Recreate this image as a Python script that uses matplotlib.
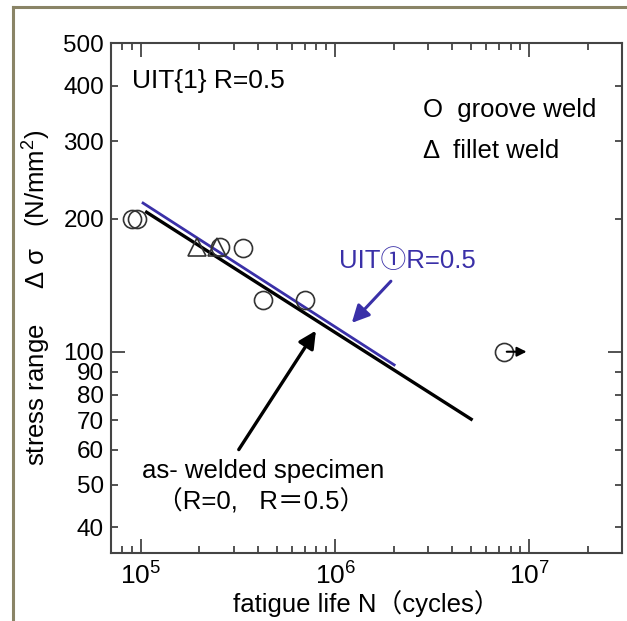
import numpy as np
import matplotlib
matplotlib.use("Agg")
import matplotlib.pyplot as plt
from matplotlib.lines import Line2D
from matplotlib.ticker import FixedLocator, NullFormatter, FixedFormatter

plt.rcParams['font.family'] = ['Liberation Sans', 'Noto Sans CJK JP', 'DejaVu Sans']
plt.rcParams['mathtext.fontset'] = 'custom'
plt.rcParams['mathtext.rm'] = 'Liberation Sans'

# test results
groove_N = [9.0e4, 9.5e4, 2.55e5, 3.35e5, 4.25e5, 7.0e5, 7.4e6]
groove_S = [200, 200, 173, 172, 131, 131, 100]
fillet_N = [1.95e5, 2.45e5]
fillet_S = [173, 173]

# S-N design lines
aswelded_N = [1.05e5, 5.1e6]
aswelded_S = [208, 70]
uit_N = [1.01e5, 2.04e6]
uit_S = [218, 93]

ytick_vals = [40, 50, 60, 70, 80, 90, 100, 200, 300, 400, 500]
xtick_vals = [1e5, 1e6, 1e7]
xtick_labels = [r'$\mathregular{10^{5}}$', r'$\mathregular{10^{6}}$', r'$\mathregular{10^{7}}$']

blue = '#3a30a8'
fs = 18.5

fig = plt.figure(figsize=(6.27, 6.21), dpi=100)
ax = fig.add_axes([0.177, 0.1095, 0.815, 0.821])

# outer frame (top and left edges)
fig.add_artist(Line2D([13/627, 1.0], [1 - 7/621, 1 - 7/621], color='#8a8466', lw=2.2))
fig.add_artist(Line2D([13/627, 13/627], [0, 1 - 7/621], color='#8a8466', lw=2.2))

ax.plot(aswelded_N, aswelded_S, color='black', lw=2.4, solid_capstyle='butt')
ax.plot(uit_N, uit_S, color=blue, lw=2.0, solid_capstyle='butt')

ax.plot(groove_N, groove_S, 'o', ms=13, mfc='none', mec='#333333', mew=1.2)
ax.plot(fillet_N, fillet_S, '^', ms=13, mfc='none', mec='#333333', mew=1.2)

ax.annotate('', xy=(1.0e7, 100), xytext=(7.4e6, 100),
            arrowprops=dict(arrowstyle='-|>', color='black', lw=1.5, mutation_scale=14))

ax.set_xscale('log')
ax.set_yscale('log')
ax.set_xlim(7e4, 3e7)
ax.set_ylim(35, 500)

ax.xaxis.set_major_locator(FixedLocator(xtick_vals))
ax.xaxis.set_major_formatter(FixedFormatter(xtick_labels))
minors = [m * 10**e for e in range(4, 8) for m in range(2, 10)]
ax.xaxis.set_minor_locator(FixedLocator(minors))
ax.xaxis.set_minor_formatter(NullFormatter())

ax.yaxis.set_major_locator(FixedLocator([100]))
ax.yaxis.set_major_formatter(FixedFormatter(['100']))
ax.yaxis.set_minor_locator(FixedLocator([v for v in ytick_vals if v != 100]))
ax.yaxis.set_minor_formatter(FixedFormatter([str(v) for v in ytick_vals if v != 100]))

ax.tick_params(which='both', direction='in', top=True, right=True, labelsize=17.5, color='#444444')
ax.tick_params(axis='y', which='both', pad=5)
ax.tick_params(axis='x', which='both', pad=7, labelsize=19)
ax.tick_params(which='major', length=10, width=1.3)
ax.tick_params(which='minor', length=5, width=1.3)
for s in ax.spines.values():
    s.set_linewidth(1.5)
    s.set_color('#444444')

ax.set_xlabel('fatigue life N（cycles）', fontsize=fs, labelpad=0)
ax.set_ylabel('stress range     Δ σ   (N/mm$^2$)', fontsize=fs, labelpad=8)

ax.text(9.0e4, 396, 'UIT{1} R=0.5', fontsize=19, va='baseline')
ax.text(2.83e6, 341, 'O  groove weld', fontsize=fs, va='baseline')
ax.text(2.83e6, 274, 'Δ  fillet weld', fontsize=fs, va='baseline')

ax.text(1.05e6, 155, 'UIT①R=0.5', fontsize=fs, color=blue, va='baseline')
ax.annotate('', xy=(1.19e6, 115), xytext=(1.98e6, 146),
            arrowprops=dict(arrowstyle='-|>', color=blue, lw=2.2, mutation_scale=26))

ax.text(1.01e5, 51.8, 'as- welded specimen', fontsize=fs, va='baseline')
ax.text(1.21e5, 43.8, '（R=0,   R＝0.5）', fontsize=fs, va='baseline')
ax.annotate('', xy=(8.1e5, 113), xytext=(3.13e5, 59.3),
            arrowprops=dict(arrowstyle='-|>', color='black', lw=2.4, mutation_scale=26))

fig.savefig('out.png', dpi=100)
